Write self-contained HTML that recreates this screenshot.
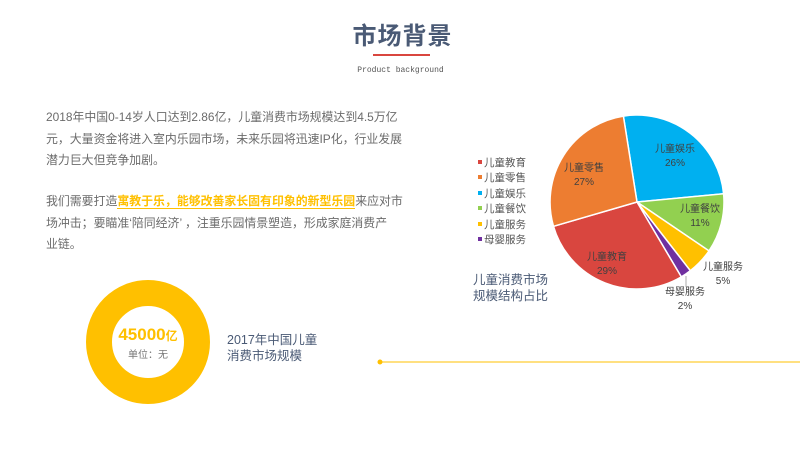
<!DOCTYPE html>
<html><head><meta charset="utf-8"><style>
body{margin:0;width:800px;height:450px;background:#fff;overflow:hidden;position:relative;font-family:"Liberation Sans","Noto Sans CJK SC",sans-serif}
.a{position:absolute;white-space:nowrap}
.p{left:46px;font-size:11.9px;color:#6b6b6b;line-height:21.5px}
.hl{color:#FFC000;font-weight:bold;border-bottom:1px solid #FFC000}
</style></head><body>
<div class="a" style="left:0;width:805px;top:16px;text-align:center;font-size:24px;font-weight:bold;color:#4a5a75;letter-spacing:1px">市场背景</div>
<div class="a" style="left:373px;top:54px;width:57px;height:2px;background:#d9463f"></div>
<div class="a" style="left:0;width:801px;top:66px;text-align:center;font-family:'Liberation Mono',monospace;font-size:8px;color:#555">Product background</div>
<div class="a p" style="top:107px">2018年中国0-14岁人口达到2.86亿，儿童消费市场规模达到4.5万亿<br>元，大量资金将进入室内乐园市场，未来乐园将迅速IP化，行业发展<br>潜力巨大但竞争加剧。</div>
<div class="a p" style="top:191px">我们需要打造<span class="hl">寓教于乐，能够改善家长固有印象的新型乐园</span>来应对市<br>场冲击；要瞄准‘陪同经济’ ，注重乐园情景塑造，形成家庭消费产<br>业链。</div>
<svg class="a" style="left:0;top:0" width="800" height="450">
<circle cx="148" cy="342" r="49" fill="none" stroke="#FFC000" stroke-width="26"/>
<text x="148" y="340" text-anchor="middle" font-size="17" font-weight="bold" fill="#FFC000">45000<tspan font-size="12">亿</tspan></text>
<text x="148" y="358" text-anchor="middle" font-size="10" fill="#777">单位：无</text>
<text x="227" y="344" font-size="12.5" fill="#4a5a75">2017年中国儿童</text>
<text x="227" y="360" font-size="12.5" fill="#4a5a75">消费市场规模</text>
<line x1="380" y1="362" x2="800" y2="362" stroke="#FFC000" stroke-width="1"/>
<circle cx="380" cy="362" r="2.5" fill="#FFC000"/>
<g stroke="#fff" stroke-width="1.5">
<path d="M637 202L623.4 116.1A87 87 0 0 1 723.6 193.8Z" fill="#00B0F0"/>
<path d="M637 202L723.6 193.8A87 87 0 0 1 709 250.9Z" fill="#92D050"/>
<path d="M637 202L709 250.9A87 87 0 0 1 690.3 270.7Z" fill="#FFC000"/>
<path d="M637 202L690.3 270.7A87 87 0 0 1 681.3 276.9Z" fill="#7030A0"/>
<path d="M637 202L681.3 276.9A87 87 0 0 1 553.5 226.3Z" fill="#D9463F"/>
<path d="M637 202L553.5 226.3A87 87 0 0 1 623.4 116.1Z" fill="#ED7D31"/>
</g>
<g font-size="10" fill="#404040" text-anchor="middle">
<text x="675" y="152">儿童娱乐</text><text x="675" y="166">26%</text>
<text x="584" y="171">儿童零售</text><text x="584" y="185">27%</text>
<text x="700" y="212">儿童餐饮</text><text x="700" y="226">11%</text>
<text x="607" y="260">儿童教育</text><text x="607" y="274">29%</text>
<text x="723" y="270">儿童服务</text><text x="723" y="284">5%</text>
<text x="685" y="295">母婴服务</text><text x="685" y="309">2%</text>
</g>
<line x1="686" y1="276" x2="686" y2="287" stroke="#999" stroke-width="0.8"/>
<g font-size="10.5" fill="#555">
<rect x="478" y="160" width="4" height="4" fill="#D9463F"/><text x="484" y="166">儿童教育</text>
<rect x="478" y="175" width="4" height="4" fill="#ED7D31"/><text x="484" y="181">儿童零售</text>
<rect x="478" y="191" width="4" height="4" fill="#00B0F0"/><text x="484" y="197">儿童娱乐</text>
<rect x="478" y="206" width="4" height="4" fill="#92D050"/><text x="484" y="212">儿童餐饮</text>
<rect x="478" y="222" width="4" height="4" fill="#FFC000"/><text x="484" y="228">儿童服务</text>
<rect x="478" y="237" width="4" height="4" fill="#7030A0"/><text x="484" y="243">母婴服务</text>
</g>
<text x="473" y="284" font-size="12.5" fill="#4a5a75">儿童消费市场</text>
<text x="473" y="300" font-size="12.5" fill="#4a5a75">规模结构占比</text>
</svg>
</body></html>
